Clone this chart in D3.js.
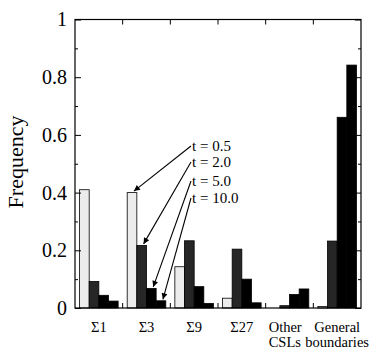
<!DOCTYPE html>
<html>
<head>
<meta charset="utf-8">
<script src="https://cdn.jsdelivr.net/npm/d3@7"></script>
<style>
  body { margin: 0; background: #fff; }
  text { font-family: "Liberation Serif", "Times New Roman", serif; fill: #000; }
</style>
</head>
<body>
<div id="main"></div>
<script>
const categories = ["Σ1", "Σ3", "Σ9", "Σ27", "Other CSLs", "General boundaries"];
const series = ["t = 0.5", "t = 2.0", "t = 5.0", "t = 10.0"];
const t05 = [0.41, 0.40, 0.143, 0.034, 0.0, 0.005];
const t20 = [0.092, 0.217, 0.233, 0.204, 0.008, 0.232];
const t50 = [0.044, 0.068, 0.074, 0.10, 0.047, 0.661];
const t100 = [0.024, 0.025, 0.016, 0.018, 0.066, 0.842];
const yTicks = [0, 0.2, 0.4, 0.6, 0.8, 1];
const yMinorTicks = [0.1, 0.3, 0.5, 0.7, 0.9];

const ctx = { w: 372, h: 351, left: 75, right: 361, top: 19.5, bottom: 308 };
const fills = ["#ececec", "#262626", "#000", "#000"];
const serif = "Liberation Serif";

function createChart(svg) {
    let values = [t05, t20, t50, t100];
    let rows = [];
    categories.forEach((c, i) => {
        series.forEach((s, j) => rows.push({ cat: c, key: s, k: j, v: values[j][i] }));
    });

    let x = d3.scaleBand().domain(categories).range([ctx.left, ctx.right]);
    let xs = d3.scaleBand().domain(series)
        .range([x.bandwidth() * 0.095, x.bandwidth() * 0.905]);
    let y = d3.scaleLinear().domain([0, 1]).range([ctx.bottom, ctx.top]);

    // bars
    svg.append("g").selectAll("rect")
        .data(rows)
        .enter().append("rect")
        .attr("x", d => x(d.cat) + xs(d.key))
        .attr("y", d => y(d.v))
        .attr("width", xs.bandwidth())
        .attr("height", d => y(0) - y(d.v))
        .style("fill", d => fills[d.k])
        .style("stroke", d => d.v > 0 ? "#000" : "none")
        .style("stroke-width", 0.8);

    // frame
    svg.append("rect")
        .attr("x", ctx.left).attr("y", ctx.top)
        .attr("width", ctx.right - ctx.left).attr("height", ctx.bottom - ctx.top)
        .style("fill", "none").style("stroke", "#000").style("stroke-width", 1.2);

    // left axis
    let yAxis = d3.axisLeft(y).tickValues(yTicks).tickSizeInner(-6).tickSizeOuter(0)
        .tickPadding(8).tickFormat(d => d3.format("")(d));
    let gy = svg.append("g").attr("transform", "translate(" + ctx.left + ",0)").call(yAxis);
    gy.attr("font-family", serif);
    gy.select(".domain").remove();
    gy.selectAll("text").style("font-size", "20px");
    let gym = svg.append("g").attr("transform", "translate(" + ctx.left + ",0)")
        .call(d3.axisLeft(y).tickValues(yMinorTicks).tickSizeInner(-3).tickSizeOuter(0).tickFormat(""));
    gym.select(".domain").remove();

    // right axis
    let gr = svg.append("g").attr("transform", "translate(" + ctx.right + ",0)")
        .call(d3.axisRight(y).tickValues(yTicks).tickSizeInner(-6).tickSizeOuter(0).tickFormat(""));
    gr.select(".domain").remove();
    let grm = svg.append("g").attr("transform", "translate(" + ctx.right + ",0)")
        .call(d3.axisRight(y).tickValues(yMinorTicks).tickSizeInner(-3).tickSizeOuter(0).tickFormat(""));
    grm.select(".domain").remove();

    // group boundary ticks top and bottom
    let bounds = categories.slice(1);
    svg.append("g").selectAll("line")
        .data(bounds).enter().append("line")
        .attr("x1", d => x(d)).attr("x2", d => x(d))
        .attr("y1", ctx.bottom).attr("y2", ctx.bottom - 5)
        .style("stroke", "#000");
    svg.append("g").selectAll("line")
        .data(bounds).enter().append("line")
        .attr("x1", d => x(d)).attr("x2", d => x(d))
        .attr("y1", ctx.top).attr("y2", ctx.top + 5)
        .style("stroke", "#000");

    // category labels (the "Other CSLs" pair sits left-aligned in the original)
    let lab = svg.append("g").selectAll("text")
        .data(categories).enter().append("text")
        .attr("x", d => d == "Other CSLs" ? x(d) + 3 : x(d) + x.bandwidth() / 2)
        .attr("y", 332)
        .attr("text-anchor", d => d == "Other CSLs" ? "start" : "middle")
        .attr("font-family", serif)
        .style("font-size", "14.5px");
    lab.selectAll("tspan")
        .data(d => d.split(" "))
        .enter().append("tspan")
        .attr("x", function() { return d3.select(this.parentNode).attr("x"); })
        .attr("dy", (d, i) => i ? 15 : 0)
        .text(d => d);

    // y title
    svg.append("text")
        .attr("transform", "translate(23,162) rotate(-90)")
        .attr("text-anchor", "middle")
        .attr("font-family", serif)
        .style("font-size", "22px")
        .text("Frequency");

    // annotations pointing at the Σ3 bars
    svg.append("defs").append("marker")
        .attr("id", "ah").attr("viewBox", "0 0 10 10")
        .attr("refX", 10).attr("refY", 5)
        .attr("markerWidth", 9).attr("markerHeight", 6)
        .attr("markerUnits", "userSpaceOnUse")
        .attr("orient", "auto")
        .append("path").attr("d", "M0,0L10,5L0,10Z").style("fill", "#000");

    let target = "Σ3";
    let ti = categories.indexOf(target);
    let labelY = [151, 167, 186, 203];
    let note = svg.append("g");
    series.forEach((s, j) => {
        let tx = x(target) + xs(s) + xs.bandwidth() * 0.7;
        let ty = y(values[j][ti]) - 1.5;
        note.append("line")
            .attr("x1", 191).attr("y1", labelY[j] - 5)
            .attr("x2", tx).attr("y2", ty)
            .style("stroke", "#000").style("stroke-width", 1.1)
            .attr("marker-end", "url(#ah)");
        note.append("text")
            .attr("x", 192).attr("y", labelY[j])
            .attr("font-family", serif)
            .style("font-size", "15px")
            .text(s);
    });
}

let svgEl = d3.select("#main").append("svg")
    .attr("width", ctx.w).attr("height", ctx.h);
createChart(svgEl);
</script>
</body>
</html>
